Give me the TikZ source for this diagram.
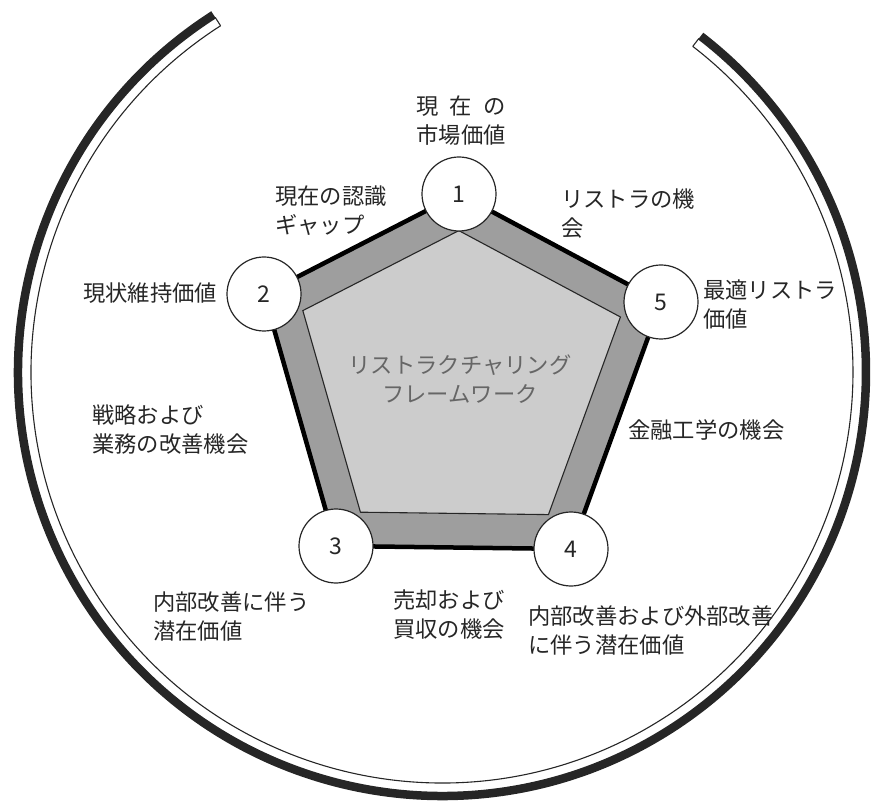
\documentclass[tikz,border=0pt]{standalone}
\usepackage{fontspec}
\setmainfont{Noto Sans CJK JP}
\usetikzlibrary{calc}
\begin{document}
\begin{tikzpicture}[x=1pt,y=1pt,
  lab/.style={inner sep=0pt, align=left, font=\fontsize{22.3}{29}\selectfont, text=black!85},
  num/.style={circle, draw=black!85, line width=1.2pt, fill=white, minimum size=74pt, inner sep=0pt, font=\fontsize{23}{28}\selectfont, text=black!85},
  ringband/.style={line width=8.5pt, draw=black!85},
  ringline/.style={line width=1.1pt, draw=black!85},
  outerpent/.style={fill=black!38, draw=black, line width=4.5pt, line join=miter},
  innerpent/.style={fill=black!20, draw=black!85, line width=1.1pt, line join=miter}
]
\useasboundingbox (0,0) rectangle (877,809);
% surrounding double arc
\coordinate (O) at (442,437);
\draw[ringband] ([shift={(122.6:424)}]O) arc[start angle=122.6, end angle=412.4, radius=424];
\draw[ringline] ([shift={(122.6:411)}]O) arc[start angle=122.6, end angle=412.4, radius=411];
\draw[ringline] ([shift={(122.6:411)}]O) -- ([shift={(122.6:421)}]O);
\draw[ringline] ([shift={(412.4:411)}]O) -- ([shift={(412.4:421)}]O);
% pentagon
\coordinate (p1) at (459,615);
\coordinate (p2) at (264,515);
\coordinate (p3) at (336,263);
\coordinate (p4) at (571,260);
\coordinate (p5) at (661,507);
\coordinate (G) at (458.2,432);
\draw[outerpent] (p1) -- (p2) -- (p3) -- (p4) -- (p5) -- cycle;
\draw[innerpent] ($(G)!0.8!(p1)$) -- ($(G)!0.8!(p2)$) -- ($(G)!0.8!(p3)$) -- ($(G)!0.8!(p4)$) -- ($(G)!0.8!(p5)$) -- cycle;
\node[lab, align=center, text=black!60] (ctr) at (460,430) {リストラクチャリング\\フレームワーク};
% circles
\node[num] (c1) at (p1) {1};
\node[num] (c2) at (p2) {2};
\node[num] (c3) at (p3) {3};
\node[num] (c4) at (p4) {4};
\node[num] (c5) at (p5) {5};
% labels
\node[lab, align=center] (t1) at (461,688) {\makebox[4em][s]{現 在 の}\\市場価値};
\node[lab, anchor=west] (t12) at (275,598) {現在の認識\\ギャップ};
\node[lab, anchor=west] (t15) at (561,595) {リストラの機\\会};
\node[lab, anchor=west] (t2) at (83,516) {現状維持価値};
\node[lab, anchor=west] (t5) at (703,504) {最適リストラ\\価値};
\node[lab, anchor=west] (t45) at (628,379) {金融工学の機会};
\node[lab, anchor=west] (t23) at (92,379) {戦略および\\業務の改善機会};
\node[lab, anchor=west] (t3) at (153,193) {内部改善に伴う\\潜在価値};
\node[lab, anchor=west] (t34) at (393,194) {売却および\\買収の機会};
\node[lab, anchor=west] (t4) at (528,178) {内部改善および外部改善\\に伴う潜在価値};
\end{tikzpicture}
\end{document}
